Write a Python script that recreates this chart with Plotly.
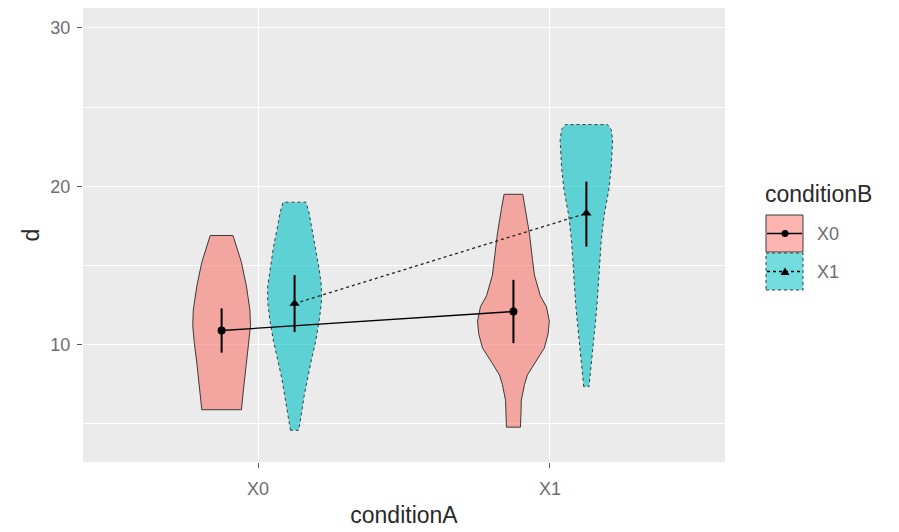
import plotly.graph_objects as go

# ---------------- data ----------------
categories = ["X0", "X1"]
groups = ["X0", "X1"]

# violin profiles (y values and half-widths in category units)
pink_x0_y = [5.9, 7.2, 8.7, 10.2, 11.2, 12.2, 13.7, 15.2, 16.4, 16.9]
pink_x0_w = [.068, .075, .084, .094, .099, .097, .085, .068, .048, .039]
teal_x0_y = [4.6, 5.7, 6.7, 7.9, 8.9, 10.2, 11.6, 12.7, 13.7, 14.7, 16.2, 17.3, 18.4, 19.0]
teal_x0_w = [.014, .024, .032, .044, .056, .072, .085, .092, .092, .085, .072, .060, .049, .039]
pink_x1_y = [4.8, 5.7, 6.5, 7.5, 8.1, 8.9, 9.8, 10.7, 11.5, 12.4, 13.1, 14.4, 15.4, 17.0, 18.6, 19.5]
pink_x1_w = [.024, .026, .027, .038, .048, .075, .106, .119, .123, .113, .092, .072, .065, .055, .041, .032]
teal_x1_y = [7.35, 8.2, 9.2, 10.7, 12.4, 14.2, 16.6, 18.2, 19.8, 21.2, 22.9, 23.6, 23.9]
teal_x1_w = [.009, .014, .019, .027, .036, .043, .051, .061, .077, .085, .090, .085, .072]

# means and error-bar limits per conditionB group, for conditionA X0, X1
mean_b0 = [10.9, 12.1]
upper_b0 = [12.3, 14.1]
lower_b0 = [9.5, 10.1]
mean_b1 = [12.6, 18.3]
upper_b1 = [14.4, 20.3]
lower_b1 = [10.8, 16.2]

y_ticks = [10, 20, 30]
y_minor = [5, 15, 25]

# ---------------- styling ----------------
FONT = "Liberation Sans, Arial, sans-serif"
PINK_FILL = "rgba(248,118,109,0.6)"
TEAL_FILL = "rgba(0,191,196,0.6)"
OUTLINE = "#3a3a3a"
TICK_COL = "#6e6e6e"
TITLE_COL = "#2a2a2a"
DODGE = 0.125
cat_pos = {c: i + 1 for i, c in enumerate(categories)}

fig = go.Figure()


def violin(cx, ys, ws, fill, dash):
    xs = [cx - w for w in ws] + [cx + w for w in reversed(ws)]
    yy = list(ys) + list(reversed(ys))
    xs.append(xs[0])
    yy.append(yy[0])
    fig.add_trace(go.Scatter(x=xs, y=yy, mode="lines", fill="toself",
                             fillcolor=fill,
                             line=dict(color=OUTLINE, width=1, dash=dash),
                             hoverinfo="skip", showlegend=False))


violin(cat_pos["X0"] - DODGE, pink_x0_y, pink_x0_w, PINK_FILL, "solid")
violin(cat_pos["X0"] + DODGE, teal_x0_y, teal_x0_w, TEAL_FILL, "dot")
violin(cat_pos["X1"] - DODGE, pink_x1_y, pink_x1_w, PINK_FILL, "solid")
violin(cat_pos["X1"] + DODGE, teal_x1_y, teal_x1_w, TEAL_FILL, "dot")

xb0 = [cat_pos[c] - DODGE for c in categories]
xb1 = [cat_pos[c] + DODGE for c in categories]

# connecting lines
fig.add_trace(go.Scatter(x=xb0, y=mean_b0, mode="lines",
                         line=dict(color="black", width=1.3),
                         hoverinfo="skip", showlegend=False))
fig.add_trace(go.Scatter(x=xb1, y=mean_b1, mode="lines",
                         line=dict(color="#222222", width=1.3, dash="dot"),
                         hoverinfo="skip", showlegend=False))

# error bars + means
for xs, m, up, lo, sym in [(xb0, mean_b0, upper_b0, lower_b0, "circle"),
                           (xb1, mean_b1, upper_b1, lower_b1, "triangle-up")]:
    fig.add_trace(go.Scatter(
        x=xs, y=m, mode="markers",
        marker=dict(symbol=sym, size=8 if sym == "circle" else 9, color="black"),
        error_y=dict(type="data", symmetric=False,
                     array=[u - v for u, v in zip(up, m)],
                     arrayminus=[v - l for v, l in zip(m, lo)],
                     width=0, thickness=2, color="black"),
        showlegend=False, hoverinfo="skip"))

# ---------------- layout ----------------
L, R, T, B = 83, 725, 8, 462
W, H = 899, 532


def px(xp):
    return (xp - L) / (R - L)


def py(yp):
    return (B - yp) / (B - T)


shapes = []
annotations = []
# legend
annotations.append(dict(xref="paper", yref="paper", x=px(763), y=py(194),
                        text="conditionB", showarrow=False, xanchor="left",
                        yanchor="middle", font=dict(family=FONT, size=23, color=TITLE_COL)))
keys = [(215, 252, PINK_FILL.replace("0.6", "0.55"), "solid", "circle", "X0"),
        (253, 290, TEAL_FILL.replace("0.6", "0.55"), "dot", "triangle", "X1")]
for y0, y1, fill, dash, sym, lab in keys:
    shapes.append(dict(type="rect", xref="paper", yref="paper",
                       x0=px(766), x1=px(803), y0=py(y1), y1=py(y0),
                       fillcolor=fill, line=dict(color=OUTLINE, width=1, dash=dash)))
    yc = (y0 + y1) / 2
    shapes.append(dict(type="line", xref="paper", yref="paper",
                       x0=px(767), x1=px(802), y0=py(yc), y1=py(yc),
                       line=dict(color="black", width=1.3, dash=dash)))
    if sym == "circle":
        shapes.append(dict(type="circle", xref="paper", yref="paper",
                           x0=px(781.5), x1=px(788.5), y0=py(yc + 3.5), y1=py(yc - 3.5),
                           fillcolor="black", line=dict(color="black", width=0)))
    else:
        path = "M {} {} L {} {} L {} {} Z".format(px(780.5), py(yc + 3.5), px(789.5), py(yc + 3.5),
                                                 px(785), py(yc - 4))
        shapes.append(dict(type="path", xref="paper", yref="paper", path=path,
                           fillcolor="black", line=dict(color="black", width=0)))
    annotations.append(dict(xref="paper", yref="paper", x=px(815), y=py(yc),
                            text=lab, showarrow=False, xanchor="left", yanchor="middle",
                            font=dict(family=FONT, size=18, color=TICK_COL)))

fig.update_layout(
    width=W, height=H,
    margin=dict(l=L, r=W - R, t=T, b=H - B, pad=0),
    paper_bgcolor="white", plot_bgcolor="#EBEBEB",
    showlegend=False,
    shapes=shapes, annotations=annotations,
    xaxis=dict(range=[0.4, 2.6], tickvals=[cat_pos[c] for c in categories],
               ticktext=categories, showgrid=True, gridcolor="white", gridwidth=1.4,
               zeroline=False, ticks="outside", ticklen=5, tickcolor="#555555",
               ticklabelstandoff=5,
               tickfont=dict(family=FONT, size=18, color=TICK_COL),
               title=dict(text="conditionA", font=dict(family=FONT, size=23, color=TITLE_COL),
                          standoff=9)),
    yaxis=dict(range=[2.6, 31.26], tickvals=y_ticks, showgrid=True, gridcolor="white",
               gridwidth=1.4, zeroline=False, ticks="outside", ticklen=5, tickcolor="#555555",
               ticklabelstandoff=3,
               tickfont=dict(family=FONT, size=18, color=TICK_COL),
               minor=dict(tickvals=y_minor, showgrid=True, gridcolor="white", gridwidth=0.7,
                          ticks=""),
               title=dict(text="d", font=dict(family=FONT, size=23, color=TITLE_COL),
                          standoff=4)),
)

fig.write_html("out.html")
